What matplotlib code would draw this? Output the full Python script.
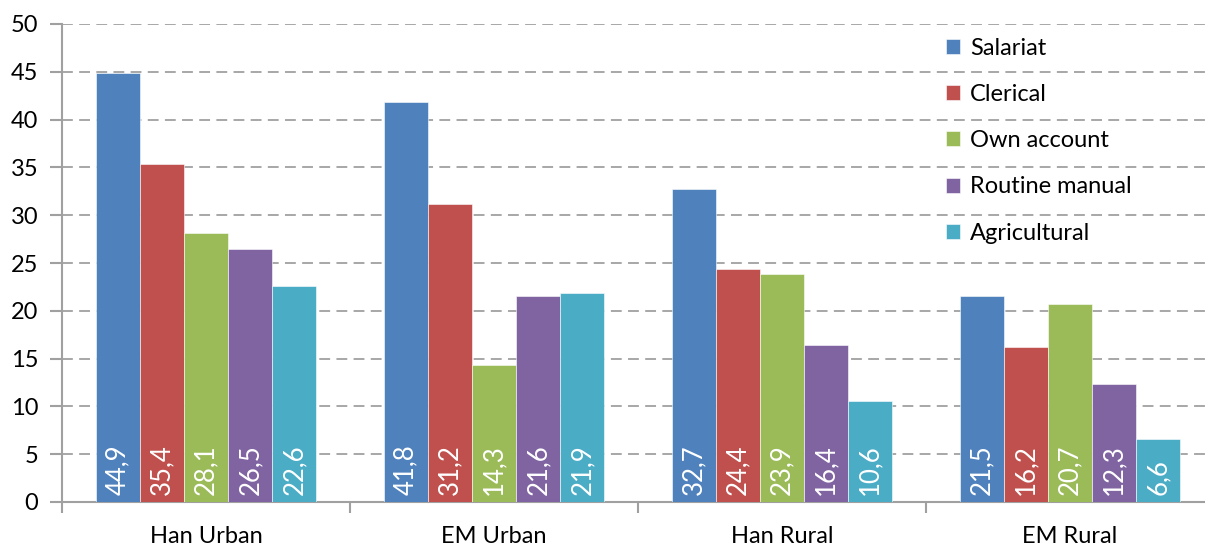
import matplotlib.pyplot as plt
import numpy as np

plt.rcParams["font.family"] = ["Lato", "DejaVu Sans"]

groups = ["Han Urban", "EM Urban", "Han Rural", "EM Rural"]
classes = ["Salariat", "Clerical", "Own account", "Routine manual", "Agricultural"]
salariat = [44.9, 41.8, 32.7, 21.5]
clerical = [35.4, 31.2, 24.4, 16.2]
own_account = [28.1, 14.3, 23.9, 20.7]
routine_manual = [26.5, 21.6, 16.4, 12.3]
agricultural = [22.6, 21.9, 10.6, 6.6]
series = [salariat, clerical, own_account, routine_manual, agricultural]
colors = ["#4F81BD", "#C0504D", "#9BBB59", "#8064A2", "#4BACC6"]

fig = plt.figure(figsize=(12.05, 5.47), dpi=100)
ax = fig.add_axes([62 / 1205, 1 - 502 / 547, 1 - 62 / 1205, (502 - 24) / 547])

x = np.arange(len(groups))
width = 0.153
for i, (name, vals, col) in enumerate(zip(classes, series, colors)):
    pos = x + (i - 2) * width
    ax.bar(pos, vals, width, color=col, label=name, edgecolor="white", linewidth=0.4, zorder=3)
    for p, v in zip(pos, vals):
        ax.text(p, 0.7, f"{v:.1f}".replace(".", ","), rotation=90, ha="center", va="bottom",
                color="white", fontsize=18.5, zorder=4)

ax.set_ylim(0, 50)
ax.set_xlim(-0.5, 3.5 - 9 / 288)
ax.set_yticks(range(0, 51, 5))
ax.tick_params(axis="y", labelsize=17, length=9, width=1.5, color="#a0a0a0", pad=8)
ax.set_xticks(x)
ax.set_xticklabels(groups, fontsize=17)
ax.set_xticks([-0.5, 0.5, 1.5, 2.5], minor=True)
ax.tick_params(axis="x", which="major", length=0, pad=17)
ax.tick_params(axis="x", which="minor", length=8, width=1.5, color="#a0a0a0")

ax.grid(axis="y", color="#a0a0a0", linestyle=(0, (6, 3.5)), linewidth=1.3, zorder=0)
for s in ["top", "right"]:
    ax.spines[s].set_visible(False)
for s in ["left", "bottom"]:
    ax.spines[s].set_color("#a0a0a0")
    ax.spines[s].set_linewidth(1.5)

ax.legend(loc="upper left", bbox_to_anchor=(0.755, 1.016), frameon=False, fontsize=17,
          handlelength=0.6, handleheight=0.6, handletextpad=0.4, labelspacing=1.07)

fig.savefig("out.png", dpi=100)
